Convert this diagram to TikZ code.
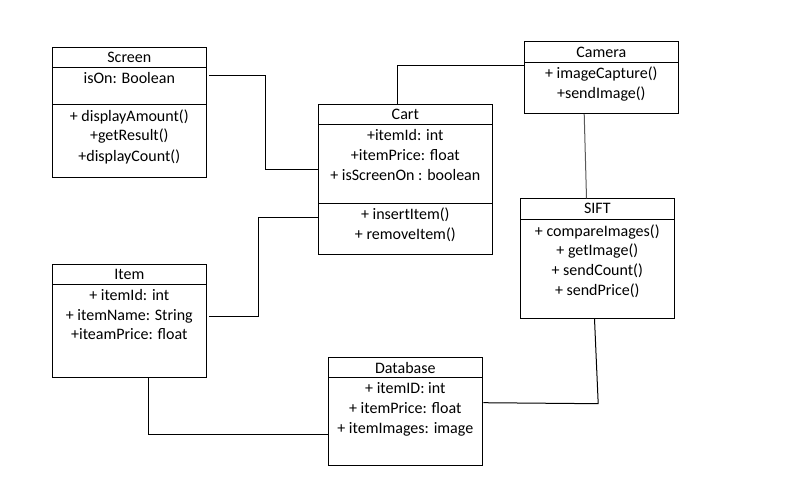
\documentclass[tikz,border=0pt]{standalone}
\usepackage{fontspec}
\setmainfont{Carlito}
\usetikzlibrary{calc}

\tikzset{
  cls/.style={draw, line width=1pt, anchor=north west, inner sep=0pt},
  txt/.style={inner sep=0pt, anchor=base, font=\fontsize{16}{19}\selectfont},
  link/.style={line width=1pt},
}

\begin{document}
\begin{tikzpicture}[x=1pt, y=-1pt]
    \useasboundingbox (0,0) rectangle (791,487);
    % class boxes
    \node[cls, minimum width=154pt, minimum height=130pt] (screen) at (52.3,46.7) {};
    \node[cls, minimum width=174pt, minimum height=150.3pt] (cart) at (318.3,103.7) {};
    \node[cls, minimum width=154pt, minimum height=71.7pt] (camera) at (524.3,41.3) {};
    \node[cls, minimum width=154pt, minimum height=119.7pt] (sift) at (520.3,198.3) {};
    \node[cls, minimum width=154pt, minimum height=112.7pt] (item) at (52.3,264.3) {};
    \node[cls, minimum width=154pt, minimum height=107.7pt] (database) at (328.3,357.3) {};
    % compartments
    \draw[link] ($(screen.north west)+(0,21)$) -- ($(screen.north east)+(0,21)$);
    \draw[link] ($(screen.north west)+(0,57.6)$) -- ($(screen.north east)+(0,57.6)$);
    \draw[link] ($(cart.north west)+(0,20.6)$) -- ($(cart.north east)+(0,20.6)$);
    \draw[link] ($(cart.north west)+(0,99.6)$) -- ($(cart.north east)+(0,99.6)$);
    \draw[link] ($(camera.north west)+(0,21)$) -- ($(camera.north east)+(0,21)$);
    \draw[link] ($(sift.north west)+(0,21.4)$) -- ($(sift.north east)+(0,21.4)$);
    \draw[link] ($(item.north west)+(0,20)$) -- ($(item.north east)+(0,20)$);
    \draw[link] ($(database.north west)+(0,20)$) -- ($(database.north east)+(0,20)$);
    % Screen
    \node[txt] (screen-t) at (129.3,62.5) {Screen};
    \node[txt] (screen-a1) at (129.3,83.5) {isOn: Boolean};
    \node[txt] (screen-m1) at (129.3,121) {+ displayAmount()};
    \node[txt] (screen-m2) at (129.3,140.5) {+getResult()};
    \node[txt] (screen-m3) at (129.3,161) {+displayCount()};
    % Cart
    \node[txt] (cart-t) at (405.3,119.5) {Cart};
    \node[txt] (cart-a1) at (405.3,140.5) {+itemId: int};
    \node[txt] (cart-a2) at (405.3,160.5) {+itemPrice: float};
    \node[txt] (cart-a3) at (405.3,180.5) {+ isScreenOn : boolean};
    \node[txt] (cart-m1) at (405.3,219.5) {+ insertItem()};
    \node[txt] (cart-m2) at (405.3,239.5) {+ removeItem()};
    % Camera
    \node[txt] (camera-t) at (601.3,57.5) {Camera};
    \node[txt] (camera-m1) at (601.3,78.5) {+ imageCapture()};
    \node[txt] (camera-m2) at (601.3,98.5) {+sendImage()};
    % SIFT
    \node[txt] (sift-t) at (597.3,213.5) {SIFT};
    \node[txt] (sift-m1) at (597.3,236) {+ compareImages()};
    \node[txt] (sift-m2) at (597.3,255.5) {+ getImage()};
    \node[txt] (sift-m3) at (597.3,275.5) {+ sendCount()};
    \node[txt] (sift-m4) at (597.3,295.5) {+ sendPrice()};
    % Item
    \node[txt] (item-t) at (129.3,279.5) {Item};
    \node[txt] (item-a1) at (129.3,300.5) {+ itemId: int};
    \node[txt] (item-a2) at (129.3,320.5) {+ itemName: String};
    \node[txt] (item-a3) at (129.3,339.5) {+iteamPrice: float};
    % Database
    \node[txt] (database-t) at (405.3,373.5) {Database};
    \node[txt] (database-a1) at (405.3,393.5) {+ itemID: int};
    \node[txt] (database-a2) at (405.3,413.5) {+ itemPrice: float};
    \node[txt] (database-a3) at (405.3,433.5) {+ itemImages: image};
    % associations
    \draw[link] ($(screen.north east)+(2,28.6)$) -- ++(56,0) |- ($(cart.north west)+(0,65.6)$);
    \draw[link] ($(camera.north west)+(0,24)$) -| ($(cart.north west)+(79,0)$);
    \draw[link, black!65] ($(camera.south)+(-17.6,0)$) -- ($(sift.north)+(-11.3,0)$);
    \draw[link] ($(sift.south)+(-3.3,0)$) -- ($(sift.south)+(0.4,84.7)$) -- ($(database.north east)+(0,45.4)$);
    \draw[link] ($(item.north east)+(2,52)$) -- ++(49,0) |- ($(cart.north west)+(0,113.6)$);
    \draw[link] ($(item.south)+(19,0)$) |- ($(database.north west)+(0,77)$);
\end{tikzpicture}
\end{document}
